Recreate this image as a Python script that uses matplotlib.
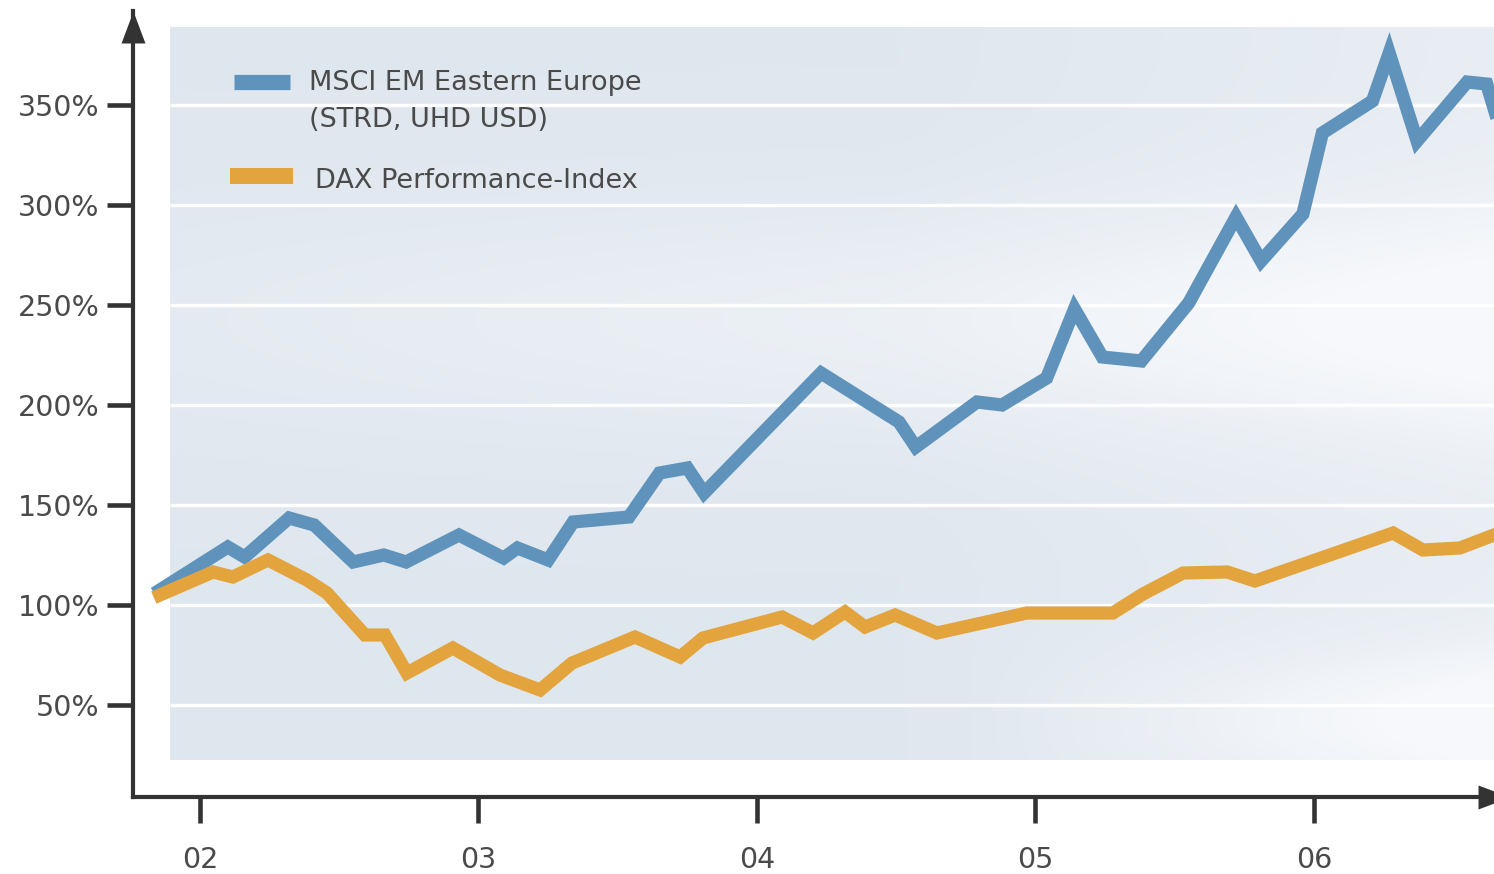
import numpy as np
import matplotlib
matplotlib.use("Agg")
import matplotlib.pyplot as plt
from matplotlib.lines import Line2D

plt.rcParams['font.family'] = ['DejaVu Sans']

# ---- data (decimal years, index level in %) ----
msci_x = [2001.856, 2002.10, 2002.16, 2002.32, 2002.41, 2002.55, 2002.66, 2002.74,
          2002.93, 2003.09, 2003.14, 2003.25, 2003.34, 2003.54, 2003.65, 2003.75,
          2003.81, 2004.23, 2004.51, 2004.57, 2004.79, 2004.88, 2005.04, 2005.14,
          2005.24, 2005.38, 2005.55, 2005.72, 2005.81, 2005.96, 2006.03, 2006.21,
          2006.27, 2006.37, 2006.55, 2006.62, 2006.66]
msci_y = [107.5, 129, 124, 143.5, 140, 121.5, 125, 121.5,
          135, 123.5, 128.5, 122.5, 141.5, 144, 166, 168.5,
          156, 216, 191.5, 179, 201.5, 200, 213.5, 248,
          224, 222, 251, 294, 272, 295.5, 336, 352,
          376, 332, 361.5, 360.5, 342]

dax_x = [2001.856, 2002.047, 2002.118, 2002.244, 2002.384, 2002.456, 2002.592, 2002.664,
         2002.743, 2002.908, 2003.077, 2003.221, 2003.336, 2003.562, 2003.724, 2003.806,
         2004.090, 2004.201, 2004.316, 2004.388, 2004.496, 2004.646, 2004.969, 2005.278,
         2005.386, 2005.530, 2005.688, 2005.788, 2006.284, 2006.391, 2006.524, 2006.646]
dax_y = [105, 116.5, 114, 122.5, 112.5, 106, 85, 85,
         66, 78.5, 65, 57.5, 71, 84, 74, 83.5,
         94, 86, 96.5, 89, 95, 86, 96, 96,
         105.5, 116, 116.5, 112, 136, 127.5, 128.5, 135]

y_ticks = [50, 100, 150, 200, 250, 300, 350]
x_ticks = [2002, 2003, 2004, 2005, 2006]
x_tick_labels = ["02", "03", "04", "05", "06"]
legend_lines = ["MSCI EM Eastern Europe", "(STRD, UHD USD)", "DAX Performance-Index"]

BLUE = "#5f93bb"
ORANGE = "#e3a43e"
AXC = "#333333"
TXT = "#4a4a4a"

W, H = 1494, 874
fig = plt.figure(figsize=(W / 100, H / 100), dpi=100)
fig.patch.set_facecolor("white")

# axes geometry in pixels
ax_l, ax_r, ax_b, ax_t = 133, 1494, 797, 11
ax = fig.add_axes([ax_l / W, 1 - ax_b / H, (ax_r - ax_l) / W, (ax_b - ax_t) / H])
ax.set_facecolor("white")

px_per_year = 278.5
px_per_pct = 2.0
x0 = 2002 + (ax_l - 200) / px_per_year
x1 = 2002 + (ax_r - 200) / px_per_year
y0 = (805 - ax_b) / px_per_pct
y1 = (805 - ax_t) / px_per_pct
ax.set_xlim(x0, x1)
ax.set_ylim(y0, y1)

# shaded background panel with soft gradient
bg_x0 = 2002 + (170 - 200) / px_per_year
bg_y0 = (805 - 760) / px_per_pct
bg_y1 = (805 - 27) / px_per_pct
nx, ny = 300, 200
gx = np.linspace(0, 1, nx)[None, :]
gy = np.linspace(0, 1, ny)[:, None]  # 0 = top
base = np.array([0.878, 0.906, 0.937])
white = np.array([0.975, 0.98, 0.99])
band = np.exp(-((gy - 0.40) / 0.16) ** 2) * (0.25 + 0.75 * gx)
band2 = np.exp(-((gy - 0.95) / 0.10) ** 2) * np.clip((gx - 0.6) / 0.4, 0, 1) * 0.8
right = np.clip((gx - 0.55) / 0.45, 0, 1) * 0.35
f = np.clip(band * 0.75 + band2 + right, 0, 0.9)
img = base[None, None, :] * (1 - f[..., None]) + white[None, None, :] * f[..., None]
ax.imshow(img, extent=[bg_x0, x1, bg_y0, bg_y1], aspect="auto", zorder=0,
          interpolation="bilinear")

# white gridlines
ax.hlines(y_ticks, bg_x0, x1, colors="white", linewidth=2.4, zorder=1)

# series
ax.plot(msci_x, msci_y, color=BLUE, linewidth=9.5, solid_joinstyle="miter", zorder=3)
ax.plot(dax_x, dax_y, color=ORANGE, linewidth=9.5, solid_joinstyle="miter", zorder=3)

# spines / axes
for s in ["top", "right"]:
    ax.spines[s].set_visible(False)
for s in ["left", "bottom"]:
    ax.spines[s].set_color(AXC)
    ax.spines[s].set_linewidth(3.0)
    ax.spines[s].set_capstyle("projecting")

ax.set_yticks(y_ticks)
ax.set_yticklabels([f"{v}%" for v in y_ticks])
ax.set_xticks(x_ticks)
ax.set_xticklabels(x_tick_labels)
ax.tick_params(axis="y", direction="out", length=19, width=3.3, color=AXC,
               labelsize=20.5, labelcolor=TXT, pad=5)
ax.tick_params(axis="x", direction="out", length=19, width=3.3, color=AXC,
               labelsize=20.5, labelcolor=TXT, pad=16)

# arrow heads (custom triangles)
up_tri = [(-12, -16), (12, -16), (0, 16), (-12, -16)]
right_tri = [(-16, -12), (-16, 12), (16, 0), (-16, -12)]
ax_h = ax_b - ax_t
ax.plot([0], [1 - 16 / ax_h], marker=up_tri, markersize=23, color=AXC,
        transform=ax.transAxes, clip_on=False, zorder=5, markeredgewidth=0)
ax.plot([1], [0], marker=right_tri, markersize=23, color=AXC,
        transform=ax.transAxes, clip_on=False, zorder=5, markeredgewidth=0)

# legend (manual)
def fx(px):
    return px / W

def fy(py):
    return 1 - py / H

fig.add_artist(Line2D([fx(234), fx(290)], [fy(81.5), fy(81.5)], color=BLUE,
                      linewidth=11, solid_capstyle="butt"))
fig.add_artist(Line2D([fx(230), fx(293)], [fy(176), fy(176)], color=ORANGE,
                      linewidth=11.5, solid_capstyle="butt"))
fig.text(fx(309), fy(83), legend_lines[0], fontsize=19.5, color=TXT,
         ha="left", va="center")
fig.text(fx(309), fy(120), legend_lines[1], fontsize=19.5, color=TXT,
         ha="left", va="center")
fig.text(fx(315), fy(181), legend_lines[2], fontsize=19.5, color=TXT,
         ha="left", va="center")

fig.savefig("out.png", dpi=100, facecolor="white")
